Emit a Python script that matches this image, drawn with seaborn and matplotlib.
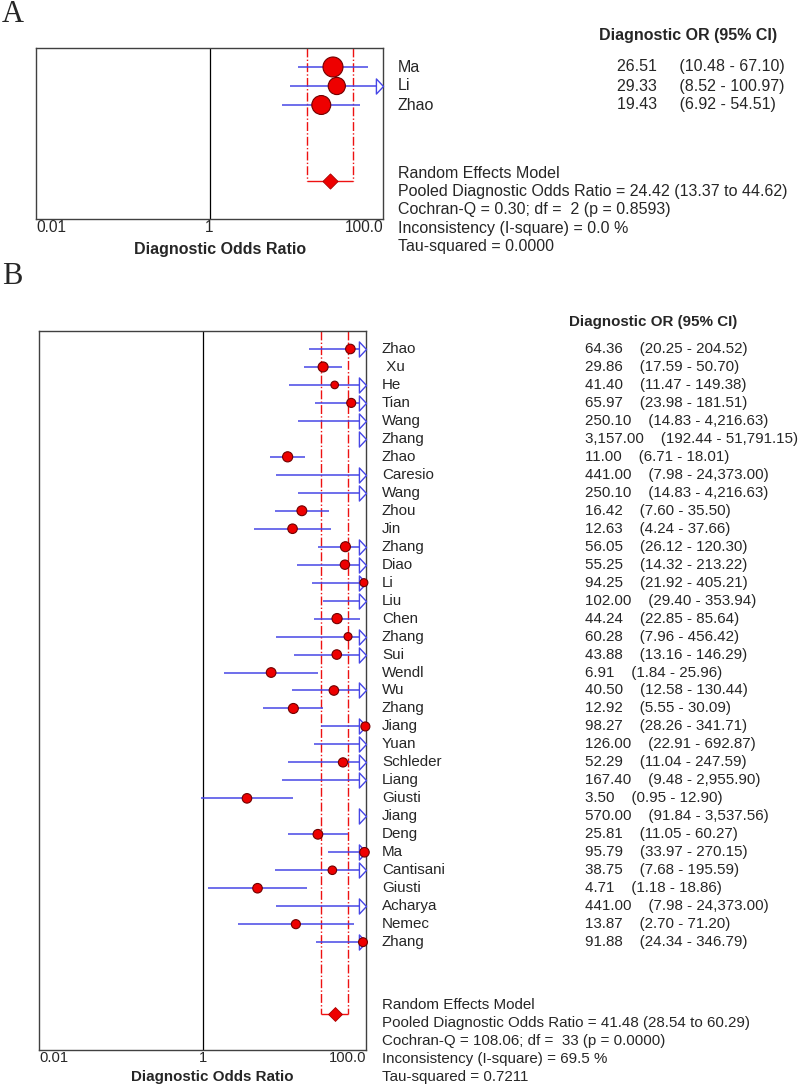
import numpy as np
import pandas as pd
import matplotlib
matplotlib.use("Agg")
import matplotlib.pyplot as plt
import matplotlib.transforms as mtransforms
from matplotlib.path import Path
import seaborn as sns

# Panel A data
names_a = ["Ma", "Li", "Zhao"]
or_a = [26.51, 29.33, 19.43]
lo_a = [10.48, 8.52, 6.92]
hi_a = [67.10, 100.97, 54.51]
weight_a = [38.0, 28.0, 34.0]
pooled_a = [24.42, 13.37, 44.62]
stats_a = {"q": 0.30, "df": 2, "p": 0.8593, "i2": 0.0, "tau2": 0.0000}

# Panel B data
names_b = ["Zhao", " Xu", "He", "Tian", "Wang", "Zhang", "Zhao", "Caresio", "Wang", "Zhou",
           "Jin", "Zhang", "Diao", "Li", "Liu", "Chen", "Zhang", "Sui", "Wendl", "Wu",
           "Zhang", "Jiang", "Yuan", "Schleder", "Liang", "Giusti", "Jiang", "Deng", "Ma",
           "Cantisani", "Giusti", "Acharya", "Nemec", "Zhang"]
or_b = [64.36, 29.86, 41.40, 65.97, 250.10, 3157.00, 11.00, 441.00, 250.10, 16.42,
        12.63, 56.05, 55.25, 94.25, 102.00, 44.24, 60.28, 43.88, 6.91, 40.50,
        12.92, 98.27, 126.00, 52.29, 167.40, 3.50, 570.00, 25.81, 95.79,
        38.75, 4.71, 441.00, 13.87, 91.88]
lo_b = [20.25, 17.59, 11.47, 23.98, 14.83, 192.44, 6.71, 7.98, 14.83, 7.60,
        4.24, 26.12, 14.32, 21.92, 29.40, 22.85, 7.96, 13.16, 1.84, 12.58,
        5.55, 28.26, 22.91, 11.04, 9.48, 0.95, 91.84, 11.05, 33.97,
        7.68, 1.18, 7.98, 2.70, 24.34]
hi_b = [204.52, 50.70, 149.38, 181.51, 4216.63, 51791.15, 18.01, 24373.00, 4216.63, 35.50,
        37.66, 120.30, 213.22, 405.21, 353.94, 85.64, 456.42, 146.29, 25.96, 130.44,
        30.09, 341.71, 692.87, 247.59, 2955.90, 12.90, 3537.56, 60.27, 270.15,
        195.59, 18.86, 24373.00, 71.20, 346.79]
weight_b = [3.0, 3.3, 1.9, 2.7, 1.0, 0.5, 3.4, 0.8, 1.0, 3.2,
            3.0, 3.3, 2.9, 2.1, 2.6, 3.4, 2.1, 3.0, 3.1, 3.0,
            3.3, 2.7, 2.2, 2.8, 1.2, 3.0, 1.5, 3.1, 3.0,
            2.4, 3.0, 0.8, 2.7, 2.6]
pooled_b = [41.48, 28.54, 60.29]
stats_b = {"q": 108.06, "df": 33, "p": 0.0000, "i2": 69.5, "tau2": 0.7211}

sns.set_theme(style="white")
plt.rcParams["font.family"] = ["Liberation Sans", "DejaVu Sans"]

W, H = 800, 1087
fig = plt.figure(figsize=(W / 100, H / 100), dpi=100)

ci_col = "#4646E6"
arrow_path = Path([(0, 0), (-0.94, 1), (-0.94, -1), (0, 0)],
                  [Path.MOVETO, Path.LINETO, Path.LINETO, Path.CLOSEPOLY])


def panel(ax, names, ors, los, his, weights, k, pooled, st, diamond_row, ylim,
          fs, name_x, head_x, num_x, head_row, stat_row0, stat_step, gap, xlab_y, dsize):
    n = len(names)
    df = pd.DataFrame({"name": names, "or": ors, "lo": los, "hi": his,
                       "w": weights, "row": np.arange(n)})
    ax.set_xscale("log")
    ax.set_xlim(0.01, 100)
    ax.set_ylim(*ylim)

    ax.axvline(1, color="black", lw=0.9, zorder=1)
    # pooled CI bracket
    ax.vlines([pooled[1], pooled[2]], ylim[1], diamond_row, colors="#EE1111",
              linestyles="-.", lw=1.0, zorder=1)
    ax.hlines(diamond_row, pooled[1], pooled[2], colors="#EE1111", lw=1.0, zorder=1)

    # confidence intervals
    ax.hlines(df["row"], df["lo"], df["hi"], colors=ci_col, lw=1.1, zorder=2)
    arr = df[df["hi"] > 100].assign(edge=100.0)
    sns.scatterplot(data=arr, x="edge", y="row", marker=arrow_path, s=118,
                    facecolor="white", edgecolor=ci_col, linewidth=1.0,
                    ax=ax, zorder=3, clip_on=False, legend=False)

    pts = df[df["or"] <= 100]
    wmin, wmax = min(weights), max(weights)
    sns.scatterplot(data=pts, x="or", y="row", size="w", sizes=(k * wmin, k * wmax),
                    size_norm=(wmin, wmax), color="#EE0000", edgecolor="#700000",
                    linewidth=0.8, ax=ax, zorder=4, clip_on=False, legend=False)

    sns.scatterplot(x=[pooled[0]], y=[diamond_row], marker="D", s=dsize,
                    color="#EE0000", edgecolor="#AA0000", linewidth=0.6,
                    ax=ax, zorder=4, clip_on=False, legend=False)

    ax.set_xticks([0.01, 1, 100])
    ax.set_xticklabels(["0.01", "1", "100.0"])
    ax.xaxis.set_minor_locator(matplotlib.ticker.NullLocator())
    ax.tick_params(axis="x", length=0, pad=1, labelsize=fs - 0.3)
    labs = ax.get_xticklabels()
    labs[0].set_ha("left")
    labs[2].set_ha("right")
    ax.set_yticks([])
    ax.set_xlabel("Diagnostic Odds Ratio", fontweight="bold", fontsize=fs)
    ax.xaxis.set_label_coords(0.529, xlab_y)
    ax.set_ylabel("")
    for sp in ax.spines.values():
        sp.set_color("#404040")
        sp.set_linewidth(1.0)

    tr = mtransforms.blended_transform_factory(fig.transFigure, ax.transData)
    fig.text(head_x / W, head_row, "Diagnostic OR (95% CI)", transform=tr,
             fontsize=fs, fontweight="bold", va="center")
    for _, r in df.iterrows():
        fig.text(name_x / W, r["row"], r["name"], transform=tr, fontsize=fs, va="center")
        txt = f"{r['or']:,.2f}" + " " * gap + f"({r['lo']:,.2f} - {r['hi']:,.2f})"
        fig.text(num_x / W, r["row"], txt, transform=tr, fontsize=fs, va="center")

    lines = ["Random Effects Model",
             f"Pooled Diagnostic Odds Ratio = {pooled[0]:.2f} ({pooled[1]:.2f} to {pooled[2]:.2f})",
             f"Cochran-Q = {st['q']:.2f}; df =  {st['df']} (p = {st['p']:.4f})",
             f"Inconsistency (I-square) = {st['i2']:.1f} %",
             f"Tau-squared = {st['tau2']:.4f}"]
    for i, line in enumerate(lines):
        fig.text(name_x / W, stat_row0 + i * stat_step, line, transform=tr,
                 fontsize=fs, va="center")


axA = fig.add_axes([36 / W, 1 - 219 / H, 347 / W, 171 / H])
panel(axA, names_a, or_a, lo_a, hi_a, weight_a, 5.46, pooled_a, stats_a, 6, (8, -1),
      11.5, 398, 599, 617, -1.68, 5.58, 0.97, 5, -0.135, 60)

axB = fig.add_axes([39 / W, 1 - 1050 / H, 327 / W, 719 / H])
panel(axB, names_b, or_b, lo_b, hi_b, weight_b, 15.7, pooled_b, stats_b, 37, (39, -1),
      10.9, 382, 569, 585, -1.5, 36.5, 1.0, 4, -0.028, 50)

fig.text(2 / W, 1 - 14 / H, "A", family=["Liberation Serif", "DejaVu Serif"], fontsize=22, va="center")
fig.text(2 / W, 1 - 277 / H, "B", family=["Liberation Serif", "DejaVu Serif"], fontsize=22, va="center")

fig.savefig("out.png", dpi=100)
